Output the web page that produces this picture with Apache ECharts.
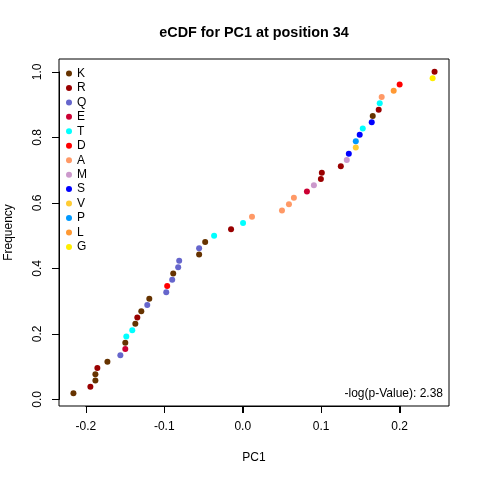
<!DOCTYPE html>
<html>
<head>
<meta charset="utf-8">
<script src="https://cdn.jsdelivr.net/npm/echarts@6/dist/echarts.min.js"></script>
<style>
html,body{margin:0;padding:0;background:#fff;}
#chart{width:480px;height:480px;}
</style>
</head>
<body>
<div id="chart"></div>
<script>
// Amino acid categories (legend order) and their colours
const aminoAcids = ['K','R','Q','E','T','D','A','M','S','V','P','L','G'];
const aaColors = ['#663300','#990000','#6666CC','#CC0033','#00FFFF','#FF0000','#FF9966','#CC99CC','#0000FF','#FFCC33','#0099FF','#FF9933','#FFEE00'];

// PC1 values (sorted) and the amino acid of each point
const pc1Values = [-0.2158,-0.1942,-0.1878,-0.1878,-0.1853,-0.1725,-0.1560,-0.1497,-0.1497,-0.1484,
  -0.1408,-0.1369,-0.1344,-0.1293,-0.1217,-0.1191,-0.0975,-0.0963,-0.0899,-0.0886,
  -0.0823,-0.0810,-0.0556,-0.0556,-0.0479,-0.0365,-0.0149,0.0004,0.0118,0.0500,
  0.0589,0.0652,0.0818,0.0907,0.0996,0.1008,0.1250,0.1326,0.1352,0.1441,
  0.1441,0.1491,0.1530,0.1644,0.1657,0.1733,0.1746,0.1771,0.1924,0.2000,
  0.2420,0.2445];
const pointAA = ['K','R','K','K','R','K','Q','E','K','T',
  'T','K','R','K','Q','K','Q','D','Q','K',
  'Q','Q','K','Q','K','T','R','T','A','A',
  'A','A','E','M','R','R','R','M','S','V',
  'P','S','T','S','K','R','T','A','L','D',
  'G','R'];

// Axis ticks (R-style axes: ticks span first..last tick only)
const xTicks = [-0.2, -0.1, 0.0, 0.1, 0.2];
const yTicks = [0.0, 0.2, 0.4, 0.6, 0.8, 1.0];

const titleText = 'eCDF for PC1 at position 34';
const annotationText = '-log(p-Value): 2.38';

// Plot region (R extends the data range by 4% on each side)
const G = { left: 59, top: 59, width: 390, height: 347 };
const xMin = -0.2342, xMax = 0.2629;
const yMin = -0.0200, yMax = 1.0392;
const xTickMin = xTicks[0], xTickMax = xTicks[xTicks.length - 1], xTickStep = 0.1;
const yTickMin = yTicks[0], yTickMax = yTicks[yTicks.length - 1], yTickStep = 0.2;

// eCDF: frequency of each sorted value = rank / n
const n = pc1Values.length;
const series = aminoAcids.map((aa, k) => {
  const data = [];
  pc1Values.forEach((v, i) => {
    if (pointAA[i] === aa) data.push([v, (i + 1) / n]);
  });
  return {
    name: aa,
    type: 'scatter',
    xAxisIndex: 0,
    yAxisIndex: 0,
    symbol: 'circle',
    symbolSize: 6,
    itemStyle: { color: aaColors[k], opacity: 1 },
    emphasis: { disabled: true },
    data: data
  };
});

// tick marks drawn through the data axes' own coordinate mapping
series.push({
  name: 'ticks',
  type: 'custom',
  xAxisIndex: 0,
  yAxisIndex: 0,
  clip: false,
  silent: true,
  z: 5,
  data: [[0, 0.5]],
  renderItem: function (params, api) {
    const children = [];
    xTicks.forEach(v => {
      const p = api.coord([v, yMin]);
      const x = Math.round(p[0]) + 0.5, y = Math.round(p[1]);
      children.push({ type: 'line', shape: { x1: x, y1: y, x2: x, y2: y + 7 }, style: { stroke: '#000', lineWidth: 1 } });
    });
    yTicks.forEach(v => {
      const p = api.coord([xMin, v]);
      const x = Math.round(p[0]), y = Math.round(p[1]) + 0.5;
      children.push({ type: 'line', shape: { x1: x - 7, y1: y, x2: x, y2: y }, style: { stroke: '#000', lineWidth: 1 } });
    });
    return { type: 'group', children: children };
  }
});

const px = v => G.left + (v - xMin) / (xMax - xMin) * G.width;
const py = v => G.top + G.height - (v - yMin) / (yMax - yMin) * G.height;
// second grid spanning exactly the tick range, axes offset onto the plot box
const tg = {
  left: px(xTickMin), right: 480 - px(xTickMax),
  top: py(yTickMax), bottom: 480 - py(yTickMin)
};
const xOff = (G.top + G.height) - py(yTickMin);
const yOff = px(xTickMin) - G.left;

const FONT = 'Liberation Sans, Arial, Helvetica, sans-serif';
const labelStyle = { color: '#000', fontFamily: FONT, fontSize: 12, margin: 15, formatter: v => v.toFixed(1) };
const tickStyle = { show: true, inside: false, length: 7, lineStyle: { color: '#000', width: 1 } };
const lineStyle = { show: true, onZero: false, lineStyle: { color: '#000', width: 1 } };

const chart = echarts.init(document.getElementById('chart'), null, { renderer: 'canvas' });
chart.setOption({
  animation: false,
  backgroundColor: '#ffffff',
  textStyle: { fontFamily: FONT },
  title: {
    text: titleText,
    left: 254,
    textAlign: 'center',
    top: 26,
    padding: 0,
    textStyle: { fontFamily: FONT, fontSize: 14.4, fontWeight: 'bold', color: '#000' }
  },
  legend: {
    orient: 'vertical',
    left: 66,
    top: 67.5,
    padding: 0,
    itemWidth: 6,
    itemHeight: 6,
    itemGap: 2.45,
    icon: 'circle',
    data: aminoAcids,
    textStyle: { fontFamily: FONT, fontSize: 12, color: '#000', lineHeight: 12 },
    selectedMode: false
  },
  grid: [
    {
      left: G.left, top: G.top, width: G.width, height: G.height,
      containLabel: false, outerBoundsMode: 'none',
      show: true, borderColor: '#000', borderWidth: 1, backgroundColor: 'transparent'
    },
    {
      left: tg.left, right: tg.right, top: tg.top, bottom: tg.bottom,
      containLabel: false, outerBoundsMode: 'none', show: false
    }
  ],
  xAxis: [
    {
      type: 'value', gridIndex: 0,
      min: xMin, max: xMax,
      name: 'PC1', nameLocation: 'middle', nameGap: 46,
      nameTextStyle: { fontFamily: FONT, fontSize: 12, color: '#000' },
      axisLine: { show: false, onZero: false },
      axisTick: { show: false }, axisLabel: { show: false }, splitLine: { show: false }
    },
    {
      type: 'value', gridIndex: 1, position: 'bottom', offset: xOff,
      min: xTickMin, max: xTickMax, interval: xTickStep,
      axisLine: lineStyle,
      axisTick: tickStyle, axisLabel: labelStyle, splitLine: { show: false }
    }
  ],
  yAxis: [
    {
      type: 'value', gridIndex: 0,
      min: yMin, max: yMax,
      name: 'Frequency', nameLocation: 'middle', nameGap: 44, nameRotate: 90,
      nameTextStyle: { fontFamily: FONT, fontSize: 12, color: '#000' },
      axisLine: { show: false, onZero: false },
      axisTick: { show: false }, axisLabel: { show: false }, splitLine: { show: false }
    },
    {
      type: 'value', gridIndex: 1, position: 'left', offset: yOff,
      min: yTickMin, max: yTickMax, interval: yTickStep,
      axisLine: lineStyle,
      axisTick: tickStyle, axisLabel: Object.assign({ rotate: 90 }, labelStyle), splitLine: { show: false }
    }
  ],
  graphic: [{
    type: 'text',
    right: 37,
    top: 388,
    style: { text: annotationText, fill: '#000', font: '12px ' + FONT }
  }],
  series: series
});
</script>
</body>
</html>
